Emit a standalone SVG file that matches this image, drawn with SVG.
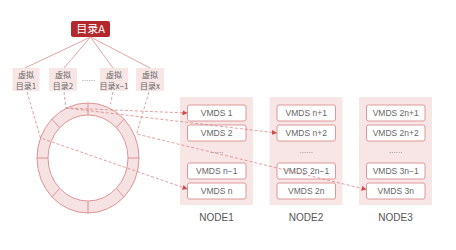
<svg xmlns="http://www.w3.org/2000/svg" width="456" height="250" viewBox="0 0 456 250">
<style>
.vbox{fill:#f8e6e6;stroke:none}
.vt{font-family:"Noto Sans CJK SC","Liberation Sans",sans-serif;font-size:8px;fill:#666;text-anchor:middle}
.panel{fill:#f8e6e6;stroke:none}
.vm{fill:#fff;stroke:#d98e8f;stroke-width:0.9}
.vmt{font-family:"Liberation Sans",sans-serif;font-size:8.5px;fill:#666;text-anchor:middle}
.nl{font-family:"Liberation Sans",sans-serif;font-size:10px;fill:#555;text-anchor:middle}
.solid{stroke:#e09a9a;stroke-width:0.9;fill:none}
.dash{stroke:#dc8586;stroke-width:0.8;stroke-dasharray:3 2;fill:none}
.dots{font-family:"Liberation Sans",sans-serif;font-size:8px;fill:#777;text-anchor:middle}
</style>
<defs>
<marker id="arr" viewBox="0 0 6 6" refX="6" refY="3" markerWidth="5" markerHeight="5" orient="auto" markerUnits="userSpaceOnUse">
<path d="M0,0 L6,3 L0,6 z" fill="#d0494b"/>
</marker>
</defs>
<rect width="456" height="250" fill="#fff"/>

<g id="ring">
<path d="M37,158 a51,55 0 1,0 102,0 a51,55 0 1,0 -102,0 z M48,158 a40,43 0 1,0 80,0 a40,43 0 1,0 -80,0 z" fill="#f6e2e2" fill-rule="evenodd" stroke="#d98a8b" stroke-width="0.9"/>
<g stroke="#d98a8b" stroke-width="0.9">
<line x1="88" y1="115" x2="88" y2="103"/>
<line x1="88" y1="201" x2="88" y2="213"/>
<line x1="128" y1="158" x2="139" y2="158"/>
<line x1="48" y1="158" x2="37" y2="158"/>
<line x1="116.3" y1="127.6" x2="124.1" y2="119.1"/>
<line x1="59.7" y1="127.6" x2="51.9" y2="119.1"/>
<line x1="116.3" y1="188.4" x2="124.1" y2="196.9"/>
<line x1="59.7" y1="188.4" x2="51.9" y2="196.9"/>
</g>
</g>

<g id="node-root">
<rect x="71" y="21" width="39" height="16" rx="2" fill="#b2282d"/>
<text x="90.5" y="33" font-family="'Noto Sans CJK SC','Liberation Sans',sans-serif" font-size="11" fill="#fff" text-anchor="middle">目录A</text>
</g>

<g id="node-v1"><rect class="vbox" x="12.5" y="68" width="27" height="23"/><text class="vt" x="26" y="77.5">虚拟</text><text class="vt" x="26" y="88.5">目录1</text></g>
<g id="node-v2"><rect class="vbox" x="49" y="68" width="28" height="23"/><text class="vt" x="63" y="77.5">虚拟</text><text class="vt" x="63" y="88.5">目录2</text></g>
<text class="dots" x="88.5" y="81">......</text>
<g id="node-v3"><rect class="vbox" x="100" y="68" width="28" height="23"/><text class="vt" x="114" y="77.5">虚拟</text><text class="vt" x="114" y="88.5">目录x−1</text></g>
<g id="node-v4"><rect class="vbox" x="136" y="68" width="28" height="23"/><text class="vt" x="150" y="77.5">虚拟</text><text class="vt" x="150" y="88.5">目录x</text></g>

<g id="node1">
<rect class="panel" x="180" y="97" width="73" height="108"/>
<rect class="vm" x="187.5" y="105" width="58.5" height="16" rx="2"/><text class="vmt" x="216.7" y="116">VMDS 1</text>
<rect class="vm" x="187.5" y="125" width="58.5" height="16" rx="2"/><text class="vmt" x="216.7" y="136">VMDS 2</text>
<text class="dots" x="216.7" y="153">......</text>
<rect class="vm" x="187.5" y="163" width="58.5" height="16" rx="2"/><text class="vmt" x="216.7" y="174">VMDS n−1</text>
<rect class="vm" x="187.5" y="183" width="58.5" height="16" rx="2"/><text class="vmt" x="216.7" y="194">VMDS n</text>
<text class="nl" x="216.5" y="221">NODE1</text>
</g>
<g id="node2">
<rect class="panel" x="269.5" y="97" width="73" height="108"/>
<rect class="vm" x="277" y="105" width="58.5" height="16" rx="2"/><text class="vmt" x="306.2" y="116">VMDS n+1</text>
<rect class="vm" x="277" y="125" width="58.5" height="16" rx="2"/><text class="vmt" x="306.2" y="136">VMDS n+2</text>
<text class="dots" x="306.2" y="153">......</text>
<rect class="vm" x="277" y="163" width="58.5" height="16" rx="2"/><text class="vmt" x="306.2" y="174">VMDS 2n−1</text>
<rect class="vm" x="277" y="183" width="58.5" height="16" rx="2"/><text class="vmt" x="306.2" y="194">VMDS 2n</text>
<text class="nl" x="306" y="221">NODE2</text>
</g>
<g id="node3">
<rect class="panel" x="359" y="97" width="73" height="108"/>
<rect class="vm" x="366.5" y="105" width="58.5" height="16" rx="2"/><text class="vmt" x="395.7" y="116">VMDS 2n+1</text>
<rect class="vm" x="366.5" y="125" width="58.5" height="16" rx="2"/><text class="vmt" x="395.7" y="136">VMDS 2n+2</text>
<text class="dots" x="395.7" y="153">......</text>
<rect class="vm" x="366.5" y="163" width="58.5" height="16" rx="2"/><text class="vmt" x="395.7" y="174">VMDS 3n−1</text>
<rect class="vm" x="366.5" y="183" width="58.5" height="16" rx="2"/><text class="vmt" x="395.7" y="194">VMDS 3n</text>
<text class="nl" x="395.5" y="221">NODE3</text>
</g>

<g id="connectors">
<line class="solid" x1="90.5" y1="37" x2="25" y2="68"/>
<line class="solid" x1="90.5" y1="37" x2="64" y2="68"/>
<line class="solid" x1="90.5" y1="37" x2="113" y2="68"/>
<line class="solid" x1="90.5" y1="37" x2="150" y2="68"/>
<polyline class="dash" points="27,92 40.5,138 187.5,189" marker-end="url(#arr)"/>
<polyline class="dash" points="64,92 66,108 187.5,113" marker-end="url(#arr)"/>
<line class="dash" x1="66" y1="108" x2="277" y2="133" marker-end="url(#arr)"/>
<line class="dash" x1="113" y1="92" x2="110.5" y2="104"/>
<polyline class="dash" points="149,92 136.5,134 366.5,189.5" marker-end="url(#arr)"/>
</g>
</svg>
